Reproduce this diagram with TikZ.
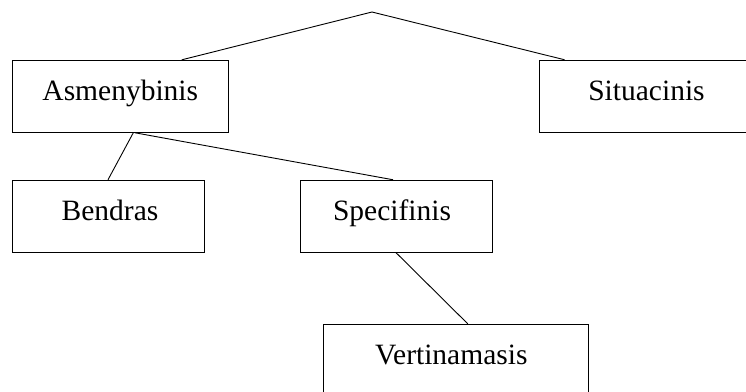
\documentclass[tikz,border=0pt]{standalone}
\usepackage{fontspec}
\setmainfont{Liberation Serif}
\usetikzlibrary{positioning, calc}

\begin{document}
\begin{tikzpicture}[
    x=1pt, y=-1pt,
    box/.style={rectangle, draw=black, line width=0.9pt, fill=white,
                minimum height=72pt, minimum width=#1, inner sep=0pt,
                text height=20pt, text depth=12pt,
                font=\fontsize{29.5}{35}\selectfont},
    box/.default=192pt,
    link/.style={draw=black, line width=0.9pt},
]

% Picture frame
\clip (0, 0) rectangle (746, 391);
\fill[white] (0, 0) rectangle (746, 391);

% Root point
\coordinate (root) at (372, 12);

% First level
\node[box=216.7pt] (asm) at (120.3, 96.3) {Asmenybinis};
\node[box=214pt]   (sit) at (646.5, 96.2) {Situacinis};

% Second level
\node[box] (ben) at (108, 216.2) {\hspace*{4pt}Bendras};
\node[box] (spe) at (396, 216.2) {Specifinis\hspace*{8pt}};

% Third level
\node[box=265pt] (ver) at (455.8, 360.3) {Vertinamasis\hspace*{9pt}};

% === Connectors ===
\draw[link] (root) -- ([xshift=61.4pt]asm.north);
\draw[link] (root) -- ([xshift=-82pt]sit.north);
\draw[link] ([xshift=13pt]asm.south) -- (ben.north);
\draw[link] ([xshift=14.5pt]asm.south) -- ([xshift=-3pt]spe.north);
\draw[link] (spe.south) -- ([xshift=12pt]ver.north);

\end{tikzpicture}
\end{document}
